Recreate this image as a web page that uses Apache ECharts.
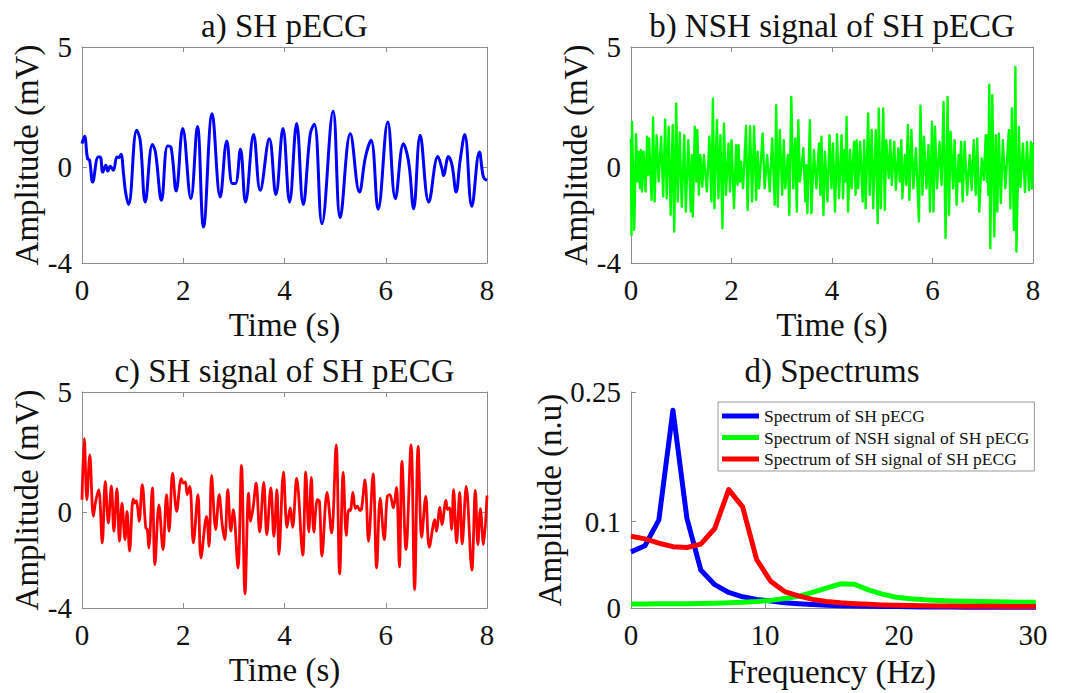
<!DOCTYPE html>
<html>
<head>
<meta charset="utf-8">
<script src="https://cdn.jsdelivr.net/npm/echarts@6/dist/echarts.min.js"></script>
<style>
  html, body { margin: 0; padding: 0; background: #ffffff; }
  #chart { width: 1083px; height: 693px; }
</style>
</head>
<body>
<div id="chart"></div>
<script>
// ---- Panel titles and axis labels ----
const panelTitles = ['a) SH pECG', 'b) NSH signal of SH pECG', 'c) SH signal of SH pECG', 'd) Spectrums'];
const timeTicks = [0, 2, 4, 6, 8];
const ampTicks = [-4, 0, 5];
const freqTicks = [0, 10, 20, 30];
const specTicks = [0, 0.1, 0.25];

// ---- a) SH pECG (s, mV) ----
const shTime = [0, 0.05, 0.11, 0.15, 0.21, 0.32, 0.36, 0.41, 0.47, 0.51, 0.56, 0.62, 0.69, 0.73, 0.77, 0.82, 0.86, 0.92, 1.08, 1.15,
  1.25, 1.39, 1.45, 1.57, 1.69, 1.76, 1.86, 1.99, 2.15, 2.28, 2.40, 2.57, 2.73, 2.86, 2.97, 3.03, 3.13, 3.23, 3.39, 3.52,
  3.70, 3.83, 3.97, 4.10, 4.24, 4.37, 4.51, 4.59, 4.74, 4.96, 5.10, 5.30, 5.48, 5.60, 5.71, 5.85, 6.04, 6.19, 6.35, 6.42,
  6.47, 6.55, 6.68, 6.85, 7.03, 7.11, 7.14, 7.24, 7.31, 7.39, 7.47, 7.56, 7.70, 7.85, 7.93, 8.0];
const shAmp = [0.97, 1.28, 0.35, 0.28, -0.63, 0.42, 0.42, -0.21, 0.07, -0.17, 0.03, -0.14, 0.42, 0.39, 0.53, -0.28, -1.04, -1.56, 1.53, 1.11,
  -1.46, 0.94, 0.63, -1.39, 0.88, 0.81, -1.0, 1.6, -1.32, 1.69, -2.5, 2.22, -1.25, 1.08, -0.69, -0.69, 0.74, -1.46, 1.35, -0.97,
  1.18, -1.15, 1.6, -1.46, 1.81, -1.56, 1.39, 1.78, -2.36, 2.32, -2.11, 1.39, -1.04, 0.42, 1.11, -1.76, 1.88, -1.32, 0.97, 0.56,
  -0.07, -1.74, 1.32, -1.46, 0.44, -0.07, -0.35, 0.44, 0.07, -1.04, 0.28, 1.35, -1.64, 0.63, -0.42, -0.56];

// ---- b) NSH signal (s, mV) ----
const nshTime = [0, 0.01, 0.02, 0.065, 0.10, 0.13, 0.15, 0.18, 0.20, 0.22, 0.25, 0.29, 0.32, 0.34, 0.36, 0.41, 0.44, 0.47, 0.51, 0.55,
  0.60, 0.64, 0.68, 0.71, 0.75, 0.79, 0.83, 0.86, 0.90, 0.93, 0.97, 1.01, 1.06, 1.09, 1.14, 1.19, 1.21, 1.23, 1.27, 1.30,
  1.32, 1.35, 1.38, 1.42, 1.45, 1.51, 1.56, 1.60, 1.63, 1.66, 1.71, 1.74, 1.78, 1.82, 1.85, 1.89, 1.94, 1.97, 2.00, 2.05,
  2.09, 2.12, 2.14, 2.17, 2.19, 2.23, 2.29, 2.32, 2.37, 2.41, 2.45, 2.49, 2.52, 2.55, 2.62, 2.66, 2.71, 2.76, 2.81, 2.86,
  2.89, 2.92, 2.96, 3.01, 3.04, 3.07, 3.12, 3.15, 3.19, 3.23, 3.27, 3.30, 3.33, 3.36, 3.43, 3.47, 3.49, 3.51, 3.56, 3.59,
  3.64, 3.69, 3.74, 3.77, 3.79, 3.83, 3.86, 3.91, 3.95, 3.99, 4.02, 4.06, 4.10, 4.14, 4.19, 4.22, 4.25, 4.27, 4.29, 4.32,
  4.36, 4.39, 4.44, 4.47, 4.49, 4.52, 4.56, 4.61, 4.64, 4.67, 4.72, 4.75, 4.79, 4.82, 4.87, 4.91, 4.93, 4.97, 5.02, 5.05,
  5.08, 5.13, 5.16, 5.19, 5.24, 5.27, 5.32, 5.35, 5.38, 5.40, 5.45, 5.48, 5.51, 5.54, 5.58, 5.62, 5.67, 5.73, 5.76, 5.80,
  5.83, 5.88, 5.92, 5.95, 5.99, 6.02, 6.05, 6.09, 6.14, 6.18, 6.22, 6.26, 6.30, 6.33, 6.36, 6.41, 6.44, 6.48, 6.52, 6.54,
  6.57, 6.60, 6.64, 6.69, 6.74, 6.78, 6.82, 6.86, 6.89, 6.93, 6.98, 7.02, 7.06, 7.08, 7.09, 7.11, 7.13, 7.15, 7.19, 7.23,
  7.26, 7.29, 7.32, 7.36, 7.40, 7.45, 7.52, 7.55, 7.58, 7.62, 7.65, 7.67, 7.72, 7.75, 7.80, 7.84, 7.88, 7.92, 7.96, 7.98, 8.0];
const nshAmp = [1.2, -2.83, 1.88, -2.62, 1.37, -0.61, 0.64, -0.89, 0.71, -1.02, 0.64, -1.02, 1.26, -0.33, 1.19, -1.37, 2.06, -1.44, 1.33, -0.61,
  1.26, -1.23, 1.98, -1.30, 1.68, -1.99, 1.75, -2.69, 2.65, -1.44, 1.44, -1.65, 1.33, -1.86, 1.12, -1.86, 0.50, -2.06, 1.68, -0.61,
  1.54, -1.16, 0.50, -0.82, 0.50, -1.02, 1.26, -1.44, 2.85, -1.72, 1.95, -1.30, 1.33, -2.55, 1.81, -1.16, 0.98, -1.02, 1.12, -1.72,
  0.91, -0.75, 0.91, -0.61, 0.22, -0.89, 1.72, -1.79, 1.70, -1.44, 1.70, -1.37, 0.64, -0.89, 1.40, -0.89, 0.50, -1.02, 1.19, -1.58,
  2.58, -1.65, 1.54, -1.16, 1.12, -0.89, 0.50, -1.99, 2.92, -0.89, 1.19, -1.86, 1.95, -0.61, 0.78, -1.44, 0.08, -1.93, 1.95, -1.93,
  0.71, -0.89, 0.98, -1.16, 1.26, -1.99, 0.64, -1.44, 1.33, -0.89, 0.98, -1.86, 1.37, -1.30, 1.33, -1.30, 0.71, -0.61, 2.09, -1.86,
  0.71, -0.89, 1.05, -1.16, 1.12, -0.89, 1.05, -1.44, 1.12, -1.72, 2.23, -1.16, 1.54, -1.72, 1.54, -2.34, 2.44, -1.72, 2.44, -1.79,
  1.12, -0.47, 1.12, -0.75, 1.05, -0.96, 0.78, -0.61, 1.12, -1.30, 0.50, -0.75, 1.75, -1.37, 1.54, -0.89, 0.78, -2.27, 2.55, -1.16,
  1.26, -0.89, 0.91, -1.86, 1.88, -1.86, 1.68, -0.89, 1.05, -0.75, 2.71, -2.96, 2.92, -1.99, 1.47, -0.89, 1.12, -1.58, 0.50, -0.61,
  1.05, -1.44, 1.05, -1.16, 0.50, -0.96, 1.12, -1.16, 1.19, -1.86, 0.36, -0.54, 1.33, -0.61, 1.33, -1.16, 3.43, -3.38, 2.99, -2.89,
  1.33, -1.86, 1.40, -1.51, 1.12, -0.89, 1.54, -1.72, 2.44, -2.62, 4.17, -3.52, 1.67, -0.83, 0.97, -1.04, 1.04, -0.97, 1.04, -0.90, 1.00];

// ---- c) SH signal (s, mV) ----
const shsTime = [0, 0.045, 0.096, 0.154, 0.224, 0.27, 0.33, 0.40, 0.46, 0.52, 0.58, 0.63, 0.69, 0.74, 0.79, 0.85, 0.89, 0.94, 1.01, 1.04,
  1.07, 1.10, 1.13, 1.19, 1.26, 1.29, 1.32, 1.39, 1.44, 1.52, 1.60, 1.67, 1.72, 1.79, 1.87, 1.96, 2.00, 2.04, 2.08, 2.13,
  2.20, 2.29, 2.35, 2.46, 2.51, 2.56, 2.64, 2.71, 2.77, 2.82, 2.88, 2.94, 2.99, 3.08, 3.15, 3.22, 3.29, 3.33, 3.38, 3.44,
  3.51, 3.59, 3.65, 3.73, 3.79, 3.85, 3.89, 3.98, 4.05, 4.11, 4.16, 4.24, 4.36, 4.42, 4.48, 4.53, 4.58, 4.65, 4.69, 4.74,
  4.84, 4.93, 5.02, 5.09, 5.16, 5.22, 5.27, 5.30, 5.35, 5.40, 5.44, 5.49, 5.52, 5.59, 5.66, 5.75, 5.82, 5.89, 5.97, 6.03,
  6.08, 6.15, 6.21, 6.27, 6.32, 6.40, 6.50, 6.57, 6.64, 6.71, 6.79, 6.86, 6.97, 7.00, 7.07, 7.11, 7.19, 7.22, 7.26, 7.30,
  7.34, 7.40, 7.46, 7.51, 7.59, 7.70, 7.77, 7.82, 7.87, 7.93, 8.0];
const shsAmp = [0.51, 3.07, 0.51, 2.38, -0.18, 0.44, 0.93, -1.29, 1.27, -0.46, 1.09, -0.80, 0.97, -1.22, 0.37, -1.15, 0.03, -1.63, 0.55, 0.37,
  0.47, 0.17, -0.39, 1.14, -0.66, -0.73, -1.50, 1.00, -2.19, 0.30, -1.57, 0.72, -0.80, 1.62, 0.03, 1.39, 1.20, 1.25, 0.72, 1.07,
  -1.29, 0.72, -1.91, -0.18, -1.43, 1.52, -0.73, 0.72, -0.53, -1.15, 0.93, -0.80, 0.10, -2.33, 1.94, -3.41, 0.79, -0.39, 0.19, 1.20,
  -0.83, 1.23, -0.94, 1.00, -1.01, 0.93, -1.77, 1.66, -0.64, 0.17, -0.64, 1.41, -1.80, 1.66, -0.83, 1.44, -0.84, 0.51, 0.44, -1.84,
  0.82, -0.87, 2.80, -2.58, 1.65, -0.97, 0.10, 0.06, 0.82, 0.14, 0.24, 0.06, 0.10, 1.34, -1.22, 1.59, -2.33, 0.58, -1.15, 0.65,
  0.72, 0.17, 1.02, -2.29, 2.11, -1.57, 2.80, -3.23, 2.73, -1.05, 0.65, -1.47, -0.32, -0.80, 0.19, -0.53, 0.48, 0.10, 0.17, -0.73,
  0.93, -1.29, 0.82, -1.33, 1.07, -2.42, 0.90, -1.36, 0.14, -1.36, 0.69];

// ---- d) Spectrums (Hz, normalised amplitude) ----
const specFreq = [0, 1.04, 2.08, 3.13, 4.17, 5.21, 6.25, 7.29, 8.33, 9.38, 10.42, 11.46, 12.5, 13.54, 14.58,
  15.63, 16.67, 17.71, 18.75, 19.79, 20.83, 21.88, 22.92, 23.96, 25, 26.04, 27.08, 28.13, 29.17, 30.21];
const specSH = [0.065, 0.072, 0.102, 0.229, 0.104, 0.044, 0.027, 0.018, 0.013, 0.010, 0.008, 0.006, 0.005, 0.004, 0.0032,
  0.0027, 0.0023, 0.002, 0.0018, 0.0016, 0.0014, 0.0013, 0.0012, 0.0011, 0.001, 0.001, 0.0009, 0.0009, 0.0008, 0.0008];
const specNSH = [0.0046, 0.0047, 0.0048, 0.0049, 0.005, 0.0052, 0.0055, 0.006, 0.0066, 0.0075, 0.0088, 0.011, 0.0135, 0.018, 0.023,
  0.028, 0.0275, 0.021, 0.016, 0.0125, 0.0108, 0.0096, 0.0088, 0.0082, 0.0077, 0.0074, 0.0071, 0.0069, 0.0067, 0.0066];
const specSHS = [0.083, 0.080, 0.075, 0.071, 0.070, 0.074, 0.092, 0.137, 0.117, 0.056, 0.031, 0.019, 0.014, 0.010, 0.0075,
  0.006, 0.005, 0.0042, 0.0036, 0.0032, 0.0029, 0.0026, 0.0024, 0.0022, 0.0021, 0.002, 0.0019, 0.0018, 0.0017, 0.0016];
const specNames = ['Spectrum of SH pECG', 'Spectrum of NSH signal of SH pECG', 'Spectrum of SH signal of SH pECG'];

// ---- styling ----
const SERIF = '"Liberation Serif", "Times New Roman", serif';
const AXIS_GRAY = '#8c8c8c';
const INK = '#111111';
const zip = (xs, ys) => xs.map((x, i) => [x, ys[i]]);

const grids = [
  { left: 82, top: 47, width: 405, height: 216 },
  { left: 631, top: 47, width: 402, height: 216 },
  { left: 82, top: 392, width: 405, height: 216 },
  { left: 631, top: 392, width: 402, height: 216 }
].map(g => Object.assign({ show: false, containLabel: false, outerBoundsMode: 'none' }, g));

function xAxis(gridIndex, pos, opts) {
  const labelled = pos === 'bottom';
  return Object.assign({
    type: 'value', gridIndex, position: pos,
    axisLine: { show: true, onZero: false, lineStyle: { color: AXIS_GRAY, width: 1 } },
    axisTick: { show: true, inside: true, length: 5, lineStyle: { color: AXIS_GRAY } },
    axisLabel: { show: labelled, fontFamily: SERIF, fontSize: 29, color: INK, margin: 12 },
    splitLine: { show: false },
    nameLocation: 'middle',
    nameTextStyle: { fontFamily: SERIF, fontSize: 33, color: INK }
  }, opts);
}
function yAxis(gridIndex, pos, opts) {
  const labelled = pos === 'left';
  return Object.assign({
    type: 'value', gridIndex, position: pos,
    axisLine: { show: true, onZero: false, lineStyle: { color: AXIS_GRAY, width: 1 } },
    axisTick: { show: true, inside: true, length: 5, lineStyle: { color: AXIS_GRAY } },
    axisLabel: { show: labelled, fontFamily: SERIF, fontSize: 29, color: INK, margin: 10 },
    splitLine: { show: false },
    nameLocation: 'middle',
    nameTextStyle: { fontFamily: SERIF, fontSize: 33, color: INK }
  }, opts);
}

function ampAxis(gridIndex, pos, nameGap) {
  const ax = yAxis(gridIndex, pos, { min: -4, max: 5 });
  ax.axisLabel.customValues = ampTicks;
  ax.axisTick.customValues = ampTicks;
  if (pos === 'left') { ax.name = 'Amplitude (mV)'; ax.nameGap = nameGap; }
  return ax;
}
function timeAxis(gridIndex, pos) {
  const ax = xAxis(gridIndex, pos, { min: timeTicks[0], max: timeTicks[timeTicks.length - 1], interval: 2 });
  if (pos === 'bottom') { ax.name = 'Time (s)'; ax.nameGap = 45; }
  return ax;
}

const xAxes = [
  timeAxis(0, 'bottom'), timeAxis(0, 'top'),
  timeAxis(1, 'bottom'), timeAxis(1, 'top'),
  timeAxis(2, 'bottom'), timeAxis(2, 'top'),
  xAxis(3, 'bottom', { min: freqTicks[0], max: freqTicks[freqTicks.length - 1], interval: 10, name: 'Frequency (Hz)', nameGap: 47 })
];
const specY = yAxis(3, 'left', { min: 0, max: 0.25, name: 'Amplitude (n.u)', nameGap: 62 });
specY.axisLabel.customValues = specTicks;
specY.axisTick.customValues = specTicks;
const yAxes = [
  ampAxis(0, 'left', 33), ampAxis(0, 'right'),
  ampAxis(1, 'left', 36), ampAxis(1, 'right'),
  ampAxis(2, 'left', 33), ampAxis(2, 'right'),
  specY
];

const titleCenters = [[284.5, 9], [832, 9], [284.5, 354], [832, 354]];
const titles = panelTitles.map((t, i) => ({
  text: t, left: titleCenters[i][0], top: titleCenters[i][1], textAlign: 'center', padding: 0,
  textStyle: { fontFamily: SERIF, fontSize: 33, fontWeight: 'normal', color: INK }
}));

function signal(data, xi, yi, color, width, smooth) {
  return {
    type: 'line', xAxisIndex: xi, yAxisIndex: yi, data,
    symbol: 'none', smooth, clip: true,
    lineStyle: { color, width, join: 'round' }, itemStyle: { color }
  };
}

const series = [
  signal(zip(shTime, shAmp), 0, 0, '#0000ff', 3, 0.4),
  signal(zip(nshTime, nshAmp), 2, 2, '#00ff00', 2.4, false),
  signal(zip(shsTime, shsAmp), 4, 4, '#ff0000', 2.8, 0.35),
  Object.assign(signal(zip(specFreq, specSH), 6, 6, '#0000ff', 5, false), { name: specNames[0] }),
  Object.assign(signal(zip(specFreq, specNSH), 6, 6, '#00ff00', 5, false), { name: specNames[1] }),
  Object.assign(signal(zip(specFreq, specSHS), 6, 6, '#ff0000', 5, false), { name: specNames[2] })
];

const chart = echarts.init(document.getElementById('chart'), null, { renderer: 'svg' });
chart.setOption({
  animation: false,
  backgroundColor: '#ffffff',
  title: titles,
  grid: grids,
  xAxis: xAxes,
  yAxis: yAxes,
  legend: {
    data: specNames.map(n => ({ name: n, icon: 'rect' })),
    orient: 'vertical', left: 718, top: 402,
    itemWidth: 37, itemHeight: 5, itemGap: 3.5,
    padding: [5, 5, 3, 4],
    borderColor: '#9a9a9a', borderWidth: 1, backgroundColor: '#ffffff',
    textStyle: { fontFamily: SERIF, fontSize: 17.5, color: INK },
    selectedMode: false
  },
  series
});
</script>
</body>
</html>
